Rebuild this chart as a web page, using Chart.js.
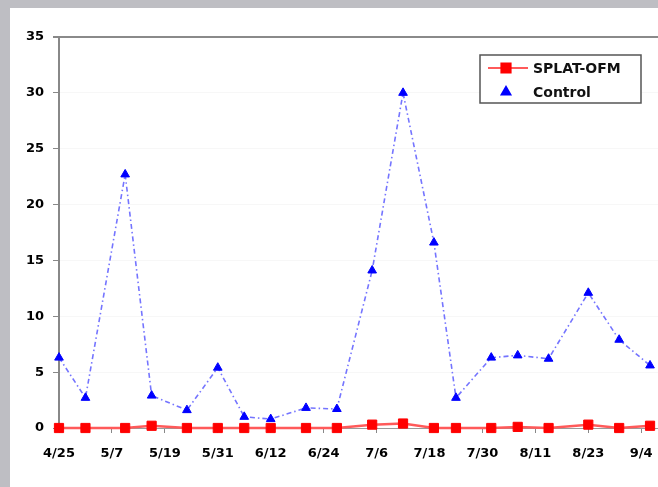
<!DOCTYPE html>
<html>
<head>
<meta charset="utf-8">
<script src="https://cdn.jsdelivr.net/npm/chart.js@4/dist/chart.umd.min.js"></script>
<style>
  html, body { margin: 0; padding: 0; }
  body { width: 658px; height: 487px; overflow: hidden; background: #bebec3; position: relative; }
  #panel { position: absolute; left: 10px; top: 8px; width: 700px; height: 500px; background: #fff; }
  #chart { position: absolute; left: 0; top: 0; }
</style>
</head>
<body>
<div id="panel"></div>
<canvas id="chart" width="684" height="487"></canvas>
<script>
// sampling dates (m/d) and catches per trap
var dates = ['4/25', '5/1', '5/10', '5/16', '5/24', '5/31', '6/6', '6/12', '6/20', '6/27',
             '7/5', '7/12', '7/19', '7/24', '8/1', '8/7', '8/14', '8/23', '8/30', '9/6'];
var splat = [0, 0, 0, 0.2, 0, 0, 0, 0, 0, 0,
             0.3, 0.4, 0, 0, 0, 0.1, 0, 0.3, 0, 0.2];
var control = [6.3, 2.7, 22.7, 2.9, 1.6, 5.4, 1.0, 0.8, 1.8, 1.7,
               14.1, 30.0, 16.6, 2.7, 6.3, 6.5, 6.2, 12.1, 7.9, 5.6];
var startDate = '4/25';
var dayStep = 12;
var lastDay = 140;
var yMax = 35;
var yStep = 5;

var FONT = 'DejaVu Sans';

function toDay(md) {
    var p = md.split('/');
    var d = new Date(2001, +p[0] - 1, +p[1]);
    var s = startDate.split('/');
    var d0 = new Date(2001, +s[0] - 1, +s[1]);
    return Math.round((d - d0) / 86400000);
}

function fromDay(n) {
    var s = startDate.split('/');
    var d = new Date(2001, +s[0] - 1, +s[1] + n);
    return (d.getMonth() + 1) + '/' + d.getDate();
}

function points(values) {
    return dates.map(function (md, i) {
        return { x: toDay(md), y: values[i] };
    });
}

// legend drawn as a framed box inside the plot
var boxLegend = {
    id: 'boxLegend',
    afterDraw: function (chart) {
        var ctx = chart.ctx;
        var x0 = 480, y0 = 55, w = 161, h = 48;
        ctx.save();
        ctx.fillStyle = '#fff';
        ctx.fillRect(x0, y0, w, h);
        ctx.strokeStyle = '#555';
        ctx.lineWidth = 1.5;
        ctx.strokeRect(x0, y0, w, h);
        chart.data.datasets.forEach(function (ds, i) {
            var cy = y0 + 13 + i * 24;
            // only the solid series shows its line in the key
            if (ds.borderDash.length === 0) {
                ctx.strokeStyle = ds.borderColor;
                ctx.lineWidth = 2;
                ctx.beginPath();
                ctx.moveTo(x0 + 8, cy);
                ctx.lineTo(x0 + 48, cy);
                ctx.stroke();
            }
            ctx.fillStyle = ds.pointBackgroundColor;
            ctx.strokeStyle = ds.pointBorderColor;
            Chart.helpers.drawPoint(ctx, {
                pointStyle: ds.pointStyle,
                radius: ds.pointRadius,
                rotation: 0,
                borderWidth: 1
            }, x0 + 26, cy);
            ctx.fillStyle = '#111';
            ctx.font = 'bold 14px "' + FONT + '"';
            ctx.textBaseline = 'middle';
            ctx.textAlign = 'left';
            ctx.fillText(ds.label, x0 + 53, cy + 1);
        });
        ctx.restore();
    }
};

new Chart(document.getElementById('chart').getContext('2d'), {
    type: 'scatter',
    data: {
        datasets: [{
            label: 'SPLAT-OFM',
            data: points(splat),
            showLine: true,
            clip: false,
            borderColor: '#ff5a5a',
            borderWidth: 2.5,
            borderDash: [],
            pointStyle: 'rect',
            pointRadius: 6.5,
            pointBackgroundColor: '#ff0000',
            pointBorderColor: '#ff0000',
            pointBorderWidth: 1
        }, {
            label: 'Control',
            data: points(control),
            showLine: true,
            clip: false,
            borderColor: '#7474ff',
            borderWidth: 1.6,
            borderDash: [5, 3, 1.5, 3],
            pointStyle: 'triangle',
            pointRadius: 5,
            pointBackgroundColor: '#0000ff',
            pointBorderColor: '#0000ff',
            pointBorderWidth: 1
        }]
    },
    options: {
        responsive: false,
        animation: false,
        devicePixelRatio: 1,
        layout: { padding: { top: 37, left: 0, right: 0, bottom: 0 } },
        plugins: {
            legend: { display: false },
            tooltip: { enabled: false }
        },
        scales: {
            x: {
                type: 'linear',
                min: 0,
                max: lastDay,
                afterBuildTicks: function (scale) {
                    scale.ticks = scale.ticks.filter(function (t) { return t.value % dayStep === 0; });
                },
                afterFit: function (scale) { scale.height = 59; },
                ticks: {
                    stepSize: dayStep,
                    autoSkip: false,
                    maxRotation: 0,
                    padding: 13,
                    color: '#000',
                    font: { family: FONT, size: 13, weight: 'bold' },
                    callback: function (v) { return fromDay(v); }
                },
                grid: { drawOnChartArea: false, tickLength: 5, color: '#888', lineWidth: 1 },
                border: { color: '#999', width: 1 }
            },
            y: {
                min: 0,
                max: yMax,
                afterFit: function (scale) { scale.width = 59; },
                ticks: {
                    stepSize: yStep,
                    padding: 9,
                    color: '#000',
                    font: { family: FONT, size: 13, weight: 'bold' }
                },
                grid: {
                    tickLength: 6,
                    color: function (c) { return c.tick && c.tick.value === yMax ? '#8a8a8a' : 'rgba(0,0,0,0.03)'; },
                    lineWidth: function (c) { return c.tick && c.tick.value === yMax ? 2 : 1; },
                    tickColor: '#888'
                },
                border: { color: '#888', width: 2 }
            }
        }
    },
    plugins: [boxLegend]
});
</script>
</body>
</html>
